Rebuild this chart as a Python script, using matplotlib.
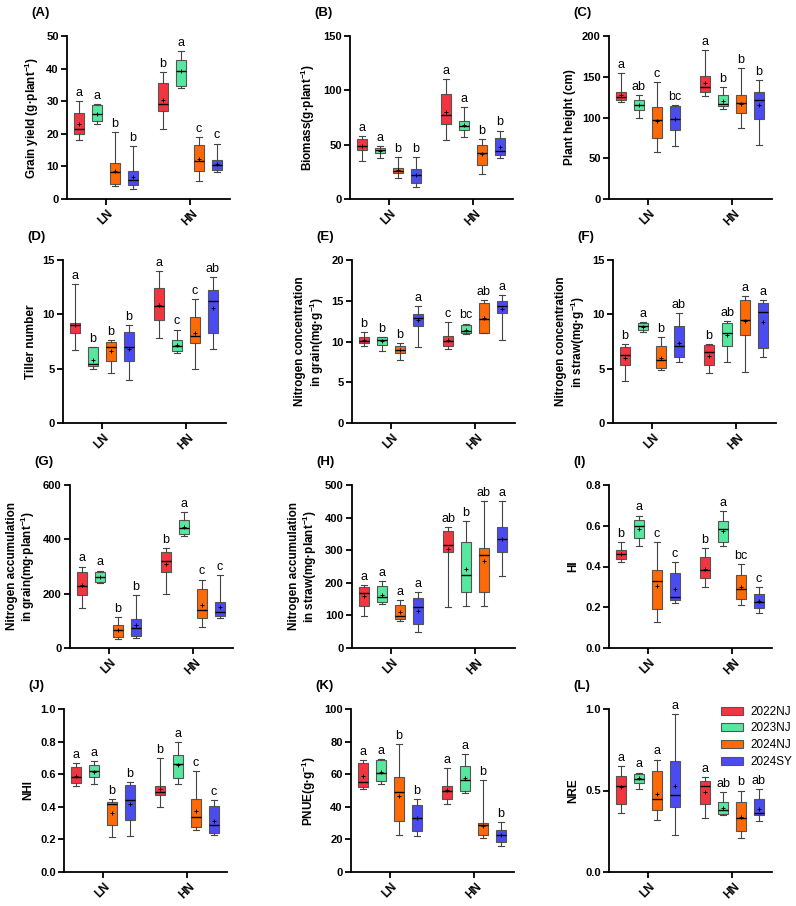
import matplotlib
matplotlib.use("Agg")
import matplotlib.pyplot as plt
from matplotlib.patches import Patch

plt.rcParams['font.family'] = ['Liberation Sans', 'DejaVu Sans']
plt.rcParams['mathtext.fontset'] = 'custom'
plt.rcParams['mathtext.bf'] = 'Liberation Sans:bold'
plt.rcParams['mathtext.rm'] = 'Liberation Sans:bold'
plt.rcParams['mathtext.default'] = 'bf'

# groups and series
groups = ['LN', 'HN']
series = ['2022NJ', '2023NJ', '2024NJ', '2024SY']
colors = ['#F2353F', '#55E89E', '#FF6A06', '#4A4CF2']

# each row: whisker low, Q1, median, Q3, whisker high, mean
# order: LN (2022NJ, 2023NJ, 2024NJ, 2024SY), HN (same)
grain_yield = [
    [18.0, 20.0, 21.6, 26.4, 30.1, 22.9], [23.0, 23.9, 26.0, 28.8, 29.0, 26.1],
    [4.0, 4.5, 8.3, 10.9, 20.5, 8.7], [3.0, 4.2, 5.8, 8.6, 16.3, 6.9],
    [21.4, 27.1, 29.0, 35.5, 39.0, 30.3], [34.2, 34.7, 39.4, 42.6, 45.3, 39.2],
    [5.4, 8.7, 11.7, 16.6, 19.0, 12.4], [8.2, 9.0, 10.3, 12.0, 17.0, 10.8]]
grain_yield_letters = ['a', 'a', 'b', 'b', 'b', 'a', 'c', 'c']

biomass = [
    [35, 45, 49, 55.5, 58, 49], [38, 42, 45, 47, 48.5, 44.5],
    [19, 23.5, 26, 28.5, 39, 26.5], [11, 15, 22, 28, 39, 22],
    [54, 69, 77, 97, 110, 80], [57.5, 63.5, 67, 72, 85, 68],
    [23, 31, 42, 50, 55.5, 41], [38, 40.5, 44, 56, 63, 47.5]]
biomass_letters = ['a', 'a', 'b', 'b', 'a', 'a', 'b', 'b']

plant_height = [
    [119, 121, 125, 131, 154, 128], [100, 109, 115, 121, 128, 115],
    [58, 75, 97, 113, 144, 96], [65, 85, 98, 114, 115, 98],
    [126, 131, 137, 151, 183, 142], [110, 114, 117, 127, 137, 120],
    [87, 105, 118, 127, 161, 117], [66, 98, 121, 131, 146, 115]]
plant_height_letters = ['a', 'ab', 'c', 'bc', 'a', 'b', 'b', 'b']

tiller_number = [
    [6.7, 8.3, 9.0, 9.2, 12.8, 9.0], [5.0, 5.2, 5.4, 7.0, 7.0, 5.8],
    [4.6, 5.7, 7.0, 7.5, 7.6, 6.6], [4.0, 5.7, 7.0, 8.4, 9.0, 6.8],
    [7.8, 9.5, 10.8, 12.4, 14.0, 10.9], [6.4, 6.6, 7.1, 7.6, 8.6, 7.2],
    [5.0, 7.4, 8.0, 9.8, 11.4, 8.3], [6.8, 8.3, 11.2, 12.2, 13.4, 10.6]]
tiller_number_letters = ['a', 'b', 'b', 'b', 'a', 'c', 'c', 'ab']

n_conc_grain = [
    [9.5, 9.8, 10.1, 10.5, 11.2, 10.2], [8.8, 9.6, 10.2, 10.6, 10.6, 10.1],
    [7.7, 8.6, 8.9, 9.4, 9.8, 8.9], [9.3, 11.9, 12.9, 13.4, 14.3, 12.6],
    [9.1, 9.4, 10.1, 10.7, 12.4, 10.2], [10.9, 11.0, 11.3, 12.0, 12.2, 11.4],
    [11.0, 11.0, 12.8, 14.7, 15.1, 12.9], [10.2, 13.5, 14.4, 15.0, 15.7, 14.0]]
n_conc_grain_letters = ['b', 'b', 'b', 'a', 'c', 'bc', 'ab', 'a']

n_conc_straw = [
    [3.9, 5.3, 6.3, 7.0, 7.3, 6.0], [8.4, 8.6, 8.9, 9.2, 9.3, 8.8],
    [4.9, 5.1, 5.8, 7.1, 7.9, 6.0], [5.6, 6.1, 7.1, 8.9, 10.1, 7.4],
    [4.6, 5.3, 6.5, 7.2, 7.3, 6.2], [5.6, 7.1, 8.3, 9.2, 9.4, 8.1],
    [4.7, 8.1, 9.5, 11.3, 11.7, 9.4], [6.1, 6.9, 10.2, 11.0, 11.3, 9.3]]
n_conc_straw_letters = ['b', 'a', 'b', 'ab', 'b', 'ab', 'a', 'a']

n_acc_grain = [
    [147, 195, 230, 280, 300, 232], [240, 243, 262, 280, 285, 262],
    [32, 40, 65, 85, 113, 65], [38, 45, 75, 108, 195, 85],
    [198, 280, 320, 355, 368, 310], [413, 420, 442, 470, 500, 447],
    [78, 112, 140, 218, 252, 158], [110, 117, 133, 170, 267, 152]]
n_acc_grain_letters = ['a', 'a', 'b', 'b', 'b', 'a', 'c', 'c']

n_acc_straw = [
    [97, 130, 170, 188, 193, 160], [135, 140, 155, 190, 205, 163],
    [84, 90, 98, 132, 148, 110], [48, 75, 125, 153, 172, 115],
    [125, 295, 316, 358, 372, 304], [128, 172, 225, 325, 390, 243],
    [128, 172, 286, 308, 450, 267], [222, 293, 333, 370, 452, 333]]
n_acc_straw_letters = ['a', 'a', 'a', 'a', 'ab', 'b', 'ab', 'a']

hi = [
    [0.42, 0.435, 0.46, 0.48, 0.52, 0.46], [0.50, 0.54, 0.60, 0.63, 0.65, 0.585],
    [0.13, 0.19, 0.33, 0.385, 0.52, 0.305], [0.22, 0.235, 0.25, 0.37, 0.42, 0.29],
    [0.30, 0.345, 0.385, 0.445, 0.49, 0.39], [0.50, 0.52, 0.585, 0.625, 0.67, 0.575],
    [0.21, 0.24, 0.29, 0.36, 0.41, 0.30], [0.17, 0.195, 0.225, 0.265, 0.30, 0.23]]
hi_letters = ['b', 'a', 'c', 'c', 'b', 'a', 'bc', 'c']

nhi = [
    [0.53, 0.545, 0.585, 0.645, 0.67, 0.59], [0.54, 0.58, 0.62, 0.655, 0.68, 0.615],
    [0.215, 0.29, 0.42, 0.43, 0.45, 0.365], [0.22, 0.32, 0.44, 0.535, 0.55, 0.415],
    [0.40, 0.475, 0.49, 0.53, 0.70, 0.51], [0.54, 0.575, 0.665, 0.72, 0.80, 0.655],
    [0.26, 0.275, 0.34, 0.45, 0.62, 0.375], [0.23, 0.24, 0.29, 0.405, 0.44, 0.315]]
nhi_letters = ['a', 'a', 'b', 'b', 'b', 'a', 'c', 'c']

pnue = [
    [51, 52, 55, 67, 68.5, 59], [54, 56, 60.5, 69, 69.5, 61.5],
    [23, 31.5, 49, 58, 78.5, 46.5], [22, 25, 33, 41, 45, 33],
    [41.5, 45, 50, 53, 64, 50.5], [48.5, 49.5, 56.5, 65, 72.5, 57.5],
    [21, 22.5, 29, 30, 56.5, 28], [16, 18.5, 22.5, 26, 30.5, 23]]
pnue_letters = ['a', 'a', 'b', 'b', 'a', 'a', 'b', 'b']

nre = [
    [0.36, 0.42, 0.53, 0.59, 0.65, 0.52], [0.51, 0.545, 0.57, 0.60, 0.61, 0.575],
    [0.32, 0.38, 0.45, 0.62, 0.69, 0.48], [0.23, 0.40, 0.47, 0.68, 0.97, 0.53],
    [0.33, 0.415, 0.525, 0.56, 0.58, 0.49], [0.35, 0.355, 0.38, 0.43, 0.49, 0.395],
    [0.21, 0.25, 0.33, 0.43, 0.50, 0.34], [0.31, 0.35, 0.365, 0.445, 0.51, 0.385]]
nre_letters = ['a', 'a', 'a', 'a', 'a', 'ab', 'b', 'ab']

panels = [
    ('(A)', 'Grain yield (g·plant$^{-1}$)', grain_yield, grain_yield_letters, 50, 10, '%d'),
    ('(B)', 'Biomass(g·plant$^{-1}$)', biomass, biomass_letters, 150, 50, '%d'),
    ('(C)', 'Plant height (cm)', plant_height, plant_height_letters, 200, 50, '%d'),
    ('(D)', 'Tiller number', tiller_number, tiller_number_letters, 15, 5, '%d'),
    ('(E)', 'Nitrogen concentration\nin grain(mg·g$^{-1}$)', n_conc_grain, n_conc_grain_letters, 20, 5, '%d'),
    ('(F)', 'Nitrogen concentration\nin straw(mg·g$^{-1}$)', n_conc_straw, n_conc_straw_letters, 15, 5, '%d'),
    ('(G)', 'Nitrogen accumulation\nin grain(mg·plant$^{-1}$)', n_acc_grain, n_acc_grain_letters, 600, 200, '%d'),
    ('(H)', 'Nitrogen accumulation\nin straw(mg·plant$^{-1}$)', n_acc_straw, n_acc_straw_letters, 500, 100, '%d'),
    ('(I)', 'HI', hi, hi_letters, 0.8, 0.2, '%.1f'),
    ('(J)', 'NHI', nhi, nhi_letters, 1.0, 0.2, '%.1f'),
    ('(K)', 'PNUE(g·g$^{-1}$)', pnue, pnue_letters, 100, 20, '%d'),
    ('(L)', 'NRE', nre, nre_letters, 1.0, 0.5, '%.1f'),
]

# axes placement in pixels (left, top), each 163x163
W, H = 796, 906
lefts = [67, 350, 609, 63, 352, 613, 70, 352, 609, 64, 351, 609]
tops = [36, 36, 36, 260, 260, 260, 485, 485, 485, 709, 709, 709]
size = 163

fig = plt.figure(figsize=(W / 100, H / 100), dpi=100)

offsets = [-0.321, -0.107, 0.107, 0.321]

for i, (tag, ylabel, data, letters, ymax, ystep, fmt) in enumerate(panels):
    ax = fig.add_axes([lefts[i] / W, 1 - (tops[i] + size) / H, size / W, size / H])
    stats, pos, cols = [], [], []
    for g in range(2):
        for s in range(4):
            lo, q1, med, q3, hi_, mean = data[g * 4 + s]
            stats.append(dict(whislo=lo, q1=q1, med=med, q3=q3, whishi=hi_, mean=mean))
            pos.append(g + 1 + offsets[s])
            cols.append(colors[s])
    bp = ax.bxp(stats, positions=pos, widths=0.125, capwidths=0.075,
                patch_artist=True, showmeans=True, showfliers=False,
                boxprops=dict(edgecolor='#555555', linewidth=0.8),
                whiskerprops=dict(color='#444444', linewidth=0.8),
                capprops=dict(color='#444444', linewidth=0.8),
                medianprops=dict(color='black', linewidth=1.0),
                meanprops=dict(marker='+', markeredgecolor='black',
                               markersize=3, markeredgewidth=0.7))
    for patch, c in zip(bp['boxes'], cols):
        patch.set_facecolor(c)
    for st, x, lt in zip(stats, pos, letters):
        ax.annotate(lt, (x, st['whishi']), xytext=(0, 1.5), textcoords='offset points',
                    ha='center', va='bottom', fontsize=9)

    ax.set_xlim(0.536, 2.476)
    ax.set_ylim(0, ymax)
    n = int(round(ymax / ystep))
    ticks = [ystep * k for k in range(n + 1)]
    ax.set_yticks(ticks)
    ax.set_yticklabels([fmt % t for t in ticks], fontweight='bold', fontsize=8)
    ax.set_xticks([1, 2])
    ax.set_xticklabels(groups, rotation=45, ha='center', fontweight='bold', fontsize=8.5)
    ax.set_ylabel(ylabel, fontweight='bold', fontsize=8.5, linespacing=1.1)
    for side in ['top', 'right']:
        ax.spines[side].set_visible(False)
    for side in ['left', 'bottom']:
        ax.spines[side].set_linewidth(1.3)
    ax.tick_params(width=1.3, length=4, pad=2)
    fig.text((lefts[i] - 36) / W, 1 - (tops[i] - 23) / H, tag, fontsize=9.5,
             fontweight='bold', ha='left', va='center')

handles = [Patch(facecolor=c, edgecolor='#555555', linewidth=0.8) for c in colors]
fig.legend(handles, series, loc='upper left', bbox_to_anchor=(716 / W, 1 - 701 / H),
           frameon=False, fontsize=8.5, handlelength=1.9, handleheight=0.65,
           labelspacing=0.4, handletextpad=0.6, borderaxespad=0)

fig.savefig('out.png', dpi=100)
